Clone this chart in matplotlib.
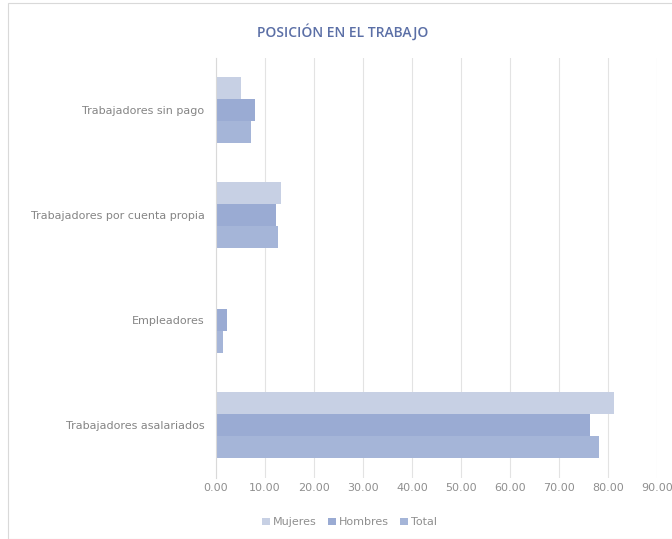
import numpy as np
import matplotlib.pyplot as plt
from matplotlib.patches import Rectangle

# categories, bottom to top as drawn
categorias = ['Trabajadores asalariados', 'Empleadores',
              'Trabajadores por cuenta propia', 'Trabajadores sin pago']
mujeres = [81.1, 0.1, 13.3, 5.2]
hombres = [76.4, 2.2, 12.3, 8.0]
total = [78.2, 1.4, 12.6, 7.1]
ticks = np.arange(0, 100, 10)

c_muj = '#c7d0e4'
c_hom = '#9aabd3'
c_tot = '#a5b5d8'
txt = '#8f8f8f'

fig = plt.figure(figsize=(6.72, 5.39), dpi=100)
ax = fig.add_axes([0.321, 0.114, 0.657, 0.779])

y = np.arange(len(categorias))
h = 0.21
ax.barh(y + h, mujeres, height=h, color=c_muj, label='Mujeres')
ax.barh(y, hombres, height=h, color=c_hom, label='Hombres')
ax.barh(y - h, total, height=h, color=c_tot, label='Total')

ax.set_xlim(0, 90)
ax.set_ylim(-0.5, len(categorias) - 0.5)
ax.set_xticks(ticks)
ax.set_xticklabels(['%.2f' % t for t in ticks], color=txt, fontsize=8)
ax.set_yticks(y)
ax.set_yticklabels(categorias, color='#858585', fontsize=8)
ax.tick_params(axis='y', length=0, pad=8)
ax.tick_params(axis='x', length=0, pad=4)
ax.grid(axis='x', color='#e3e3e3', linewidth=0.8)
ax.set_axisbelow(True)
for s in ['top', 'right', 'bottom']:
    ax.spines[s].set_visible(False)
ax.spines['left'].set_color('#d9d9d9')
ax.spines['left'].set_linewidth(0.8)

fig.text(0.51, 0.942, 'POSICIÓN EN EL TRABAJO', ha='center', va='center',
         fontsize=10, color='#5b6fa6', fontweight='semibold', family='Open Sans')

leg = fig.legend(loc='center', bbox_to_anchor=(0.52, 0.031), ncol=3,
                 frameon=False, fontsize=8, handlelength=0.7, handleheight=0.7,
                 columnspacing=1.0, handletextpad=0.3)
for t in leg.get_texts():
    t.set_color(txt)

# outer chart border
fig.patches.append(Rectangle((0.012, 0.0), 0.99, 0.995, transform=fig.transFigure,
                             fill=False, edgecolor='#d9d9d9', linewidth=0.8))

fig.savefig('out.png', dpi=100)
